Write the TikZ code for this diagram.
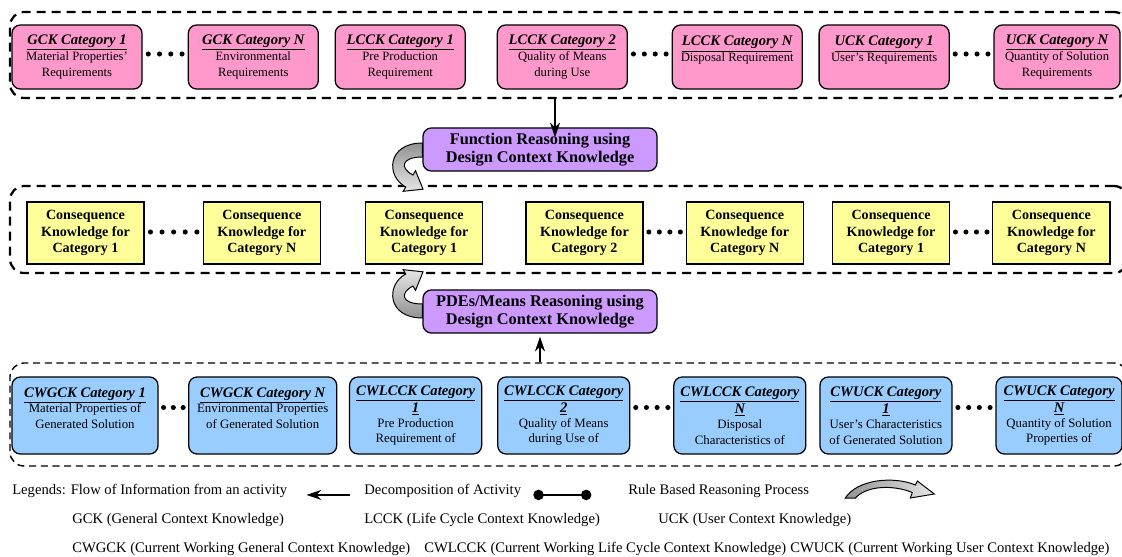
\documentclass[tikz,border=0pt]{standalone}
\usepackage{fontspec}
\setmainfont{Liberation Serif}
\usetikzlibrary{arrows.meta,positioning,calc,fit}
\definecolor{ctxPink}{RGB}{255,153,204}
\definecolor{ctxYellow}{RGB}{255,255,153}
\definecolor{ctxBlue}{RGB}{153,204,255}
\definecolor{ctxPurple}{RGB}{204,153,255}
\newcommand{\cattitle}[1]{{\fontsize{10.4}{11.4}\selectfont\bfseries\itshape\underline{#1}}}
\tikzset{
  catbox/.style={
    rectangle, rounded corners=6pt, draw=black, line width=0.9pt,
    align=center, inner sep=1pt, minimum width=3.25cm},
  gckbox/.style={catbox, fill=ctxPink, minimum height=1.6cm,
    font=\fontsize{9}{11.4}\selectfont},
  cwbox/.style={catbox, fill=ctxBlue, minimum width=3.3cm, minimum height=1.925cm,
    font=\fontsize{9.1}{10.9}\selectfont},
  consbox/.style={
    rectangle, draw=black, line width=0.9pt, fill=ctxYellow, align=center,
    minimum width=2.925cm, minimum height=1.55cm, font=\fontsize{10}{11.8}\selectfont\bfseries},
  reasonbox/.style={catbox, fill=ctxPurple, minimum width=5.85cm, minimum height=1.075cm,
    font=\fontsize{11.6}{12.8}\selectfont\bfseries},
  groupbox/.style={draw=black, rounded corners=10pt, line width=1.6pt,
    dash pattern=on 6.4pt off 4.3pt, inner sep=0pt},
  flowarrow/.style={-{Stealth[length=3.7mm,width=2.5mm]}, line width=1pt},
  decomparrow/.style={{Circle[length=2.6mm]}-{Circle[length=2.6mm]}, line width=1pt},
  rulearrow/.style={draw=black, line width=0.7pt},
  legendtext/.style={anchor=base west, inner sep=0pt, font=\fontsize{10.4}{12}\selectfont}
}

\begin{document}
\begin{tikzpicture}[x=0.025cm, y=-0.025cm]
  \useasboundingbox (0,0) rectangle (1122,557);

  % dashed groups
  \node[groupbox, fit={(10,12) (1128,98)}] (topgrp) {};
  \node[groupbox, fit={(10,186) (1128,273)}] (midgrp) {};
  \node[groupbox, line width=1pt, dash pattern=on 5pt off 3.3pt, fit={(10,363) (1128,466)}] (botgrp) {};

  % design context knowledge
  \node[gckbox] (gck1) at (77,57) {\cattitle{GCK Category 1}\\Material Properties'\\Requirements};
  \node[gckbox, right=1.125cm of gck1] (gckn) {\cattitle{GCK Category N}\\Environmental\\Requirements};
  \node[gckbox, right=0.39cm of gckn] (lcck1) {\cattitle{LCCK Category 1}\\Pre Production\\Requirement};
  \node[gckbox, right=0.77cm of lcck1] (lcck2) {\cattitle{LCCK Category 2}\\Quality of Means\\during Use};
  \node[gckbox, right=1.09cm of lcck2] (lcckn) {\cattitle{LCCK Category N}\\Disposal Requirement\\\mbox{}};
  \node[gckbox, right=0.39cm of lcckn] (uck1) {\cattitle{UCK Category 1}\\User's Requirements\\\mbox{}};
  \node[gckbox, minimum width=3.15cm, right=1.09cm of uck1] (uckn) {\cattitle{UCK Category N}\\Quantity of Solution\\Requirements};

  % reasoning activities
  \node[reasonbox] (fr) at (540,149.5) {Function Reasoning using\\Design Context Knowledge};
  \node[reasonbox] (pr) at (540,311.5) {PDEs/Means Reasoning using\\Design Context Knowledge};

  % consequence knowledge
  \node[consbox] (cons1) at (85.5,233) {Consequence\\Knowledge for\\Category 1};
  \node[consbox, right=1.45cm of cons1] (cons2) {Consequence\\Knowledge for\\Category N};
  \node[consbox, right=1.1cm of cons2] (cons3) {Consequence\\Knowledge for\\Category 1};
  \node[consbox, right=1.05cm of cons3] (cons4) {Consequence\\Knowledge for\\Category 2};
  \node[consbox, right=1.05cm of cons4] (cons5) {Consequence\\Knowledge for\\Category N};
  \node[consbox, right=0.7cm of cons5] (cons6) {Consequence\\Knowledge for\\Category 1};
  \node[consbox, right=1.05cm of cons6] (cons7) {Consequence\\Knowledge for\\Category N};

  % current working context knowledge
  \node[cwbox, minimum width=3.65cm] (cwg1) at (85,415.5) {\cattitle{CWGCK Category 1}\\Material Properties of\\Generated Solution\\\mbox{}};
  \node[cwbox, minimum width=3.7cm, right=0.735cm of cwg1] (cwgn) {\cattitle{CWGCK Category N}\\Environmental Properties\\of Generated Solution\\\mbox{}};
  \node[cwbox, right=0.29cm of cwgn] (cwl1) {\cattitle{CWLCCK Category}\\\cattitle{1}\\Pre Production\\Requirement of};
  \node[cwbox, right=0.37cm of cwl1] (cwl2) {\cattitle{CWLCCK Category}\\\cattitle{2}\\Quality of Means\\during Use of};
  \node[cwbox, right=1.07cm of cwl2] (cwln) {\cattitle{CWLCCK Category}\\\cattitle{N}\\Disposal\\Characteristics of};
  \node[cwbox, right=0.32cm of cwln] (cwu1) {\cattitle{CWUCK Category}\\\cattitle{1}\\User's Characteristics\\of Generated Solution};
  \node[cwbox, minimum width=3.15cm, right=1.07cm of cwu1] (cwun) {\cattitle{CWUCK Category}\\\cattitle{N}\\Quantity of Solution\\Properties of};

  % dots between categories
  \foreach \a/\b/\n/\dy in {gck1/gckn/4/-3, lcck2/lcckn/4/-3, uck1/uckn/4/-3,
      cons1/cons2/5/-1, cons4/cons5/4/-1, cons6/cons7/4/-1,
      cwg1/cwgn/3/-8, cwl2/cwln/4/-8, cwu1/cwun/4/-8}
    \foreach \i in {1,...,\n}{
      \pgfmathsetmacro{\dotpos}{(\i-0.5)/\n}
      \fill ($(\a.east)!\dotpos!(\b.west)+(0,\dy)$) circle (1.8pt);
    }

  % flow of information
  \coordinate (fatip) at ($(fr.north)+(15,10)$);
  \draw[flowarrow] (topgrp.south -| fatip) -- (fatip);
  \coordinate (patip) at ($(pr.south)+(0,3)$);
  \draw[flowarrow] (botgrp.north -| patip) -- (patip);

  % rule based reasoning
  \begin{scope}[shift={(fr.west)}]
    \draw[rulearrow, top color=gray!85, bottom color=gray!20]
      (0,-6.5) .. controls (-35,-6.5) and (-37,26.5) .. (-16.6,37.5)
      -- (-19.2,41.8) -- (0.7,39.7) -- (-6.8,21.2) -- (-9.4,25.5)
      .. controls (-23,18.5) and (-21,7.5) .. (0,7.5) -- cycle;
  \end{scope}
  \begin{scope}[shift={(pr.west)}]
    \draw[rulearrow, bottom color=gray!85, top color=gray!20]
      (0,6.5) .. controls (-35,6.5) and (-37,-26.5) .. (-16.6,-37.5)
      -- (-19.2,-41.8) -- (0.7,-39.7) -- (-6.8,-21.2) -- (-9.4,-25.5)
      .. controls (-23,-18.5) and (-21,-7.5) .. (0,-7.5) -- cycle;
  \end{scope}

  % legends
  \node[legendtext] (lflow) at (12,494.5) {Legends: Flow of Information from an activity};
  \draw[flowarrow] ($(lflow.east)+(62,4)$) -- ($(lflow.east)+(19,4)$);
  \node[legendtext] (ldecomp) at (364,494.5) {Decomposition of Activity};
  \draw[decomparrow] ($(ldecomp.east)+(12,4)$) -- ($(ldecomp.east)+(70,4)$);
  \node[legendtext] (lrule) at (628,494.5) {Rule Based Reasoning Process};
  \begin{scope}[shift={(lrule.east)}]
    \draw[rulearrow, left color=gray!85, right color=gray!20]
      (36,7) .. controls (48,-12) and (85,-15) .. (106,-6)
      -- (108,-10) -- (125,3) -- (101,7) -- (103,1.5)
      .. controls (85,-6) and (58,-6) .. (46,7) -- cycle;
  \end{scope}
  \node[legendtext] (lgck) at (72,523.5) {GCK (General Context Knowledge)};
  \node[legendtext] (llcck) at (364,523.5) {LCCK (Life Cycle Context Knowledge)};
  \node[legendtext] (luck) at (658,523.5) {UCK (User Context Knowledge)};
  \node[legendtext] (lcwg) at (72,552.5) {CWGCK (Current Working General Context Knowledge)};
  \node[legendtext] (lcwl) at (424,552.5) {CWLCCK (Current Working Life Cycle Context Knowledge)};
  \node[legendtext] (lcwu) at (790,552.5) {CWUCK (Current Working User Context Knowledge)};
\end{tikzpicture}
\end{document}
